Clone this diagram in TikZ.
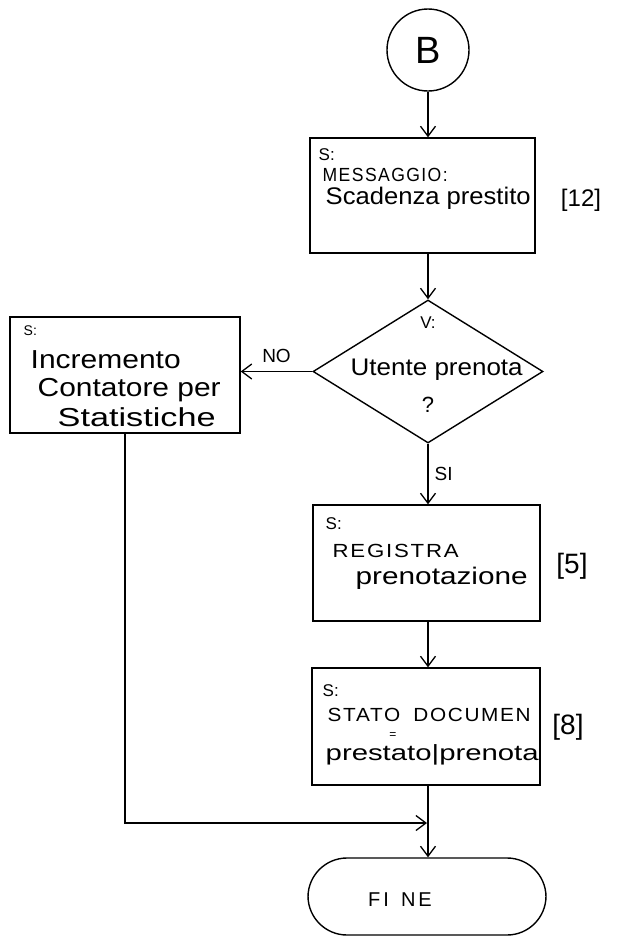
\documentclass[tikz,border=0pt]{standalone}
\usepackage{fontspec}
\usepackage{graphicx}
\setmainfont{Liberation Sans}
\usetikzlibrary{arrows.meta,shapes.geometric}

% stretch a line of text to a given width, keeping its height
\newcommand\fitw[2]{\resizebox{#1}{\height}{#2}}
\newcommand\fsz[1]{\fontsize{#1}{#1}\selectfont}

\begin{document}
\begin{tikzpicture}[x=1pt,y=-1pt,
  line width=1.4pt,
  flow/.style={-{Straight Barb[length=10pt,width=15pt,line width=1.3pt]}},
  stepbox/.style={draw,rectangle,inner sep=0pt},
  txt/.style={anchor=west,inner sep=0pt,font=\fsz{24}},
  smalltxt/.style={anchor=west,inner sep=0pt,font=\fsz{17}},
  capstxt/.style={anchor=west,inner sep=0pt,font=\fsz{19}\addfontfeatures{LetterSpace=8}},
  tag/.style={inner sep=0pt,font=\fsz{28}},
  flowlabel/.style={inner sep=0pt,font=\fsz{19}}
]
\useasboundingbox (0,0) rectangle (628,938);

% connector circle
\node[draw,circle,minimum size=82pt,inner sep=0pt,font=\fsz{38}] (start) at (428,50) {B};

% first step: message
\node[stepbox,minimum width=225pt,minimum height=115pt] (msg) at (422.5,195.5) {};
\node[smalltxt] (msgS) at (318,155) {S:};
\node[capstxt] (msgA) at (322,175) {\fitw{125pt}{MESSAGGIO:}};
\node[txt] (msgB) at (325,198) {\fitw{205pt}{Scadenza prestito}};
\node[tag,font=\fsz{24}] (msgR) at (581,200) {[12]};

% decision
\node[draw,diamond,inner sep=0pt,minimum width=230pt,minimum height=143pt] (dec) at (428,371.5) {};
\node[smalltxt,anchor=center] (decV) at (428,323) {V:};
\node[txt] (decA) at (350,370) {\fitw{172pt}{Utente prenota}};
\node[tag,font=\fsz{22}] (decQ) at (428,405) {?};

% left branch
\node[stepbox,minimum width=230pt,minimum height=116pt] (inc) at (125,375) {};
\node[smalltxt,font=\fsz{14}] (incS) at (23,331) {S:};
\node[txt,font=\fsz{26}] (incA) at (30,360) {\fitw{150pt}{Incremento}};
\node[txt,font=\fsz{26}] (incB) at (37,390) {\fitw{183pt}{Contatore per}};
\node[txt,font=\fsz{26}] (incC) at (57,417) {\fitw{158pt}{Statistiche}};

% booking step
\node[stepbox,minimum width=227pt,minimum height=116pt] (reg) at (426.5,563) {};
\node[smalltxt] (regS) at (325,524) {S:};
\node[capstxt] (regA) at (332,551) {\fitw{126pt}{REGISTRA}};
\node[txt] (regB) at (355,578) {\fitw{172pt}{prenotazione}};
\node[tag] (regR) at (572,566) {[5]};

% status step
\node[stepbox,minimum width=228pt,minimum height=117pt] (sta) at (426,726.5) {};
\node[smalltxt] (staS) at (322,691) {S:};
\node[capstxt] (staA) at (327,715) {\fitw{203pt}{STATO\hspace{12pt}DOCUMEN}};
\node[tag,font=\fsz{12}] (staE) at (393,736) {=};
\node[txt,font=\fsz{22}] (staB) at (325,755) {\fitw{213pt}{prestato|prenota}};
\node[tag] (staR) at (568,727) {[8]};

% terminator
\node[draw,rectangle,rounded corners=39pt,minimum width=238pt,minimum height=77pt,inner sep=0pt]
  (fine) at (427,896.5) {};
\node[inner sep=0pt,font=\fsz{20}] (fineT) at (400,900) {F\kern3pt I\kern12pt N\kern3pt E};

% connectors
\coordinate (join) at (427,823);
\draw[flow] (start.south) -- (start.south |- msg.north);
\draw[flow] (start.south |- msg.south) -- (dec.north);
\draw[flow] (dec.west) -- (dec.west -| inc.east)
  node[midway,above=8pt,flowlabel,anchor=south] (lblNo) {NO};
\draw[flow] (dec.south) -- (dec.south |- reg.north)
  node[midway,right=6pt,flowlabel,anchor=west] (lblSi) {SI};
\draw[flow] (dec.south |- reg.south) -- (dec.south |- sta.north);
\draw[flow] (dec.south |- sta.south) -- (dec.south |- fine.north);
\draw[flow] (inc.south) |- (join);
\end{tikzpicture}
\end{document}
